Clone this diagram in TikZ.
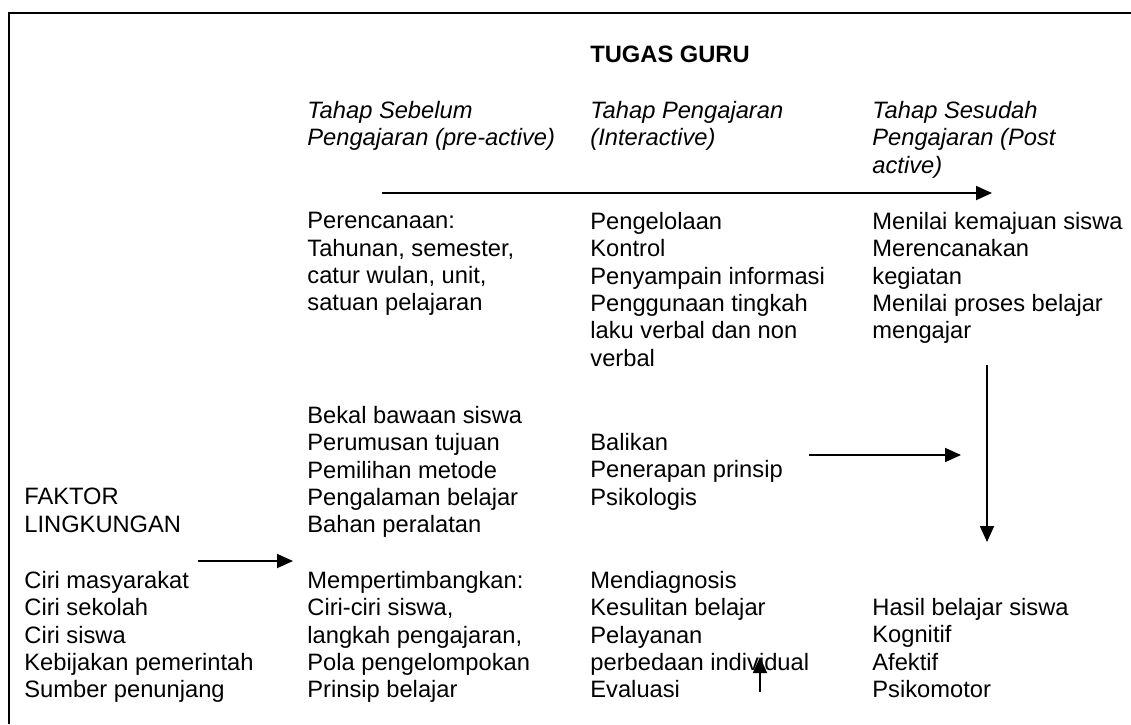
\documentclass[tikz,border=0pt]{standalone}
\usepackage{fontspec}
\setmainfont{Liberation Sans}
\usetikzlibrary{
  arrows.meta,
  positioning
}

\begin{document}
\begin{tikzpicture}[x=0.5pt, y=-0.5pt,
    txt/.style = {anchor=north west, inner sep=0pt, align=left,
                  font=\fontsize{11.85}{13.65}\selectfont},
    head/.style = {txt, font=\fontsize{11.85}{13.65}\selectfont\itshape},
    arr/.style = {line width=0.9pt, -{Triangle[length=8pt,width=7pt]}}]
    \useasboundingbox (0,0) rectangle (1131,724);
    \fill[white] (0,0) rectangle (1131,724);
    \draw[line width=1.1pt] (1131,13) -- (9,13) -- (9,724);

    % header
    \node[txt, font=\fontsize{11.85}{13.65}\selectfont\bfseries] (tugas) at (590,46) {TUGAS GURU};
    \node[head] (pre)   at (307,101) {Tahap Sebelum\\Pengajaran (pre-active)};
    \node[head] (inter) at (590,101) {Tahap Pengajaran\\(Interactive)};
    \node[head] (post)  at (872,101) {Tahap Sesudah\\Pengajaran (Post\\active)};

    % first row
    \node[txt] (rencana) at (307,212) {Perencanaan:\\Tahunan, semester,\\catur wulan, unit,\\satuan pelajaran};
    \node[txt] (kelola)  at (590,212) {Pengelolaan\\Kontrol\\Penyampain informasi\\Penggunaan tingkah\\laku verbal dan non\\verbal};
    \node[txt] (nilai)   at (872,212) {Menilai kemajuan siswa\\Merencanakan\\kegiatan\\Menilai proses belajar\\mengajar};

    % second row
    \node[txt] (bekal)   at (307,406) {Bekal bawaan siswa\\Perumusan tujuan\\Pemilihan metode\\Pengalaman belajar\\Bahan peralatan};
    \node[txt] (balikan) at (590,433) {Balikan\\Penerapan prinsip\\Psikologis};
    \node[txt] (faktor)  at (24,488)  {FAKTOR\\LINGKUNGAN};

    % third row
    \node[txt] (ciri)     at (24,571)  {Ciri masyarakat\\Ciri sekolah\\Ciri siswa\\Kebijakan pemerintah\\Sumber penunjang};
    \node[txt] (timbang)  at (307,571) {Mempertimbangkan:\\Ciri-ciri siswa,\\langkah pengajaran,\\Pola pengelompokan\\Prinsip belajar};
    \node[txt] (diagnosa) at (590,571) {Mendiagnosis\\Kesulitan belajar\\Pelayanan\\perbedaan individual\\Evaluasi};
    \node[txt] (hasil)    at (872,598) {Hasil belajar siswa\\Kognitif\\Afektif\\Psikomotor};

    % arrows
    \coordinate (a1) at (382,193);  \coordinate (a2) at (992,193);
    \coordinate (b1) at (809,455);  \coordinate (b2) at (961,455);
    \coordinate (c1) at (987,365);  \coordinate (c2) at (987,542);
    \coordinate (d1) at (198,561);  \coordinate (d2) at (293,561);
    \coordinate (e1) at (760,692);  \coordinate (e2) at (760,657);
    \draw[arr] (a1) -- (a2);
    \draw[arr] (b1) -- (b2);
    \draw[arr] (c1) -- (c2);
    \draw[arr] (d1) -- (d2);
    \draw[arr] (e1) -- (e2);
\end{tikzpicture}
\end{document}
